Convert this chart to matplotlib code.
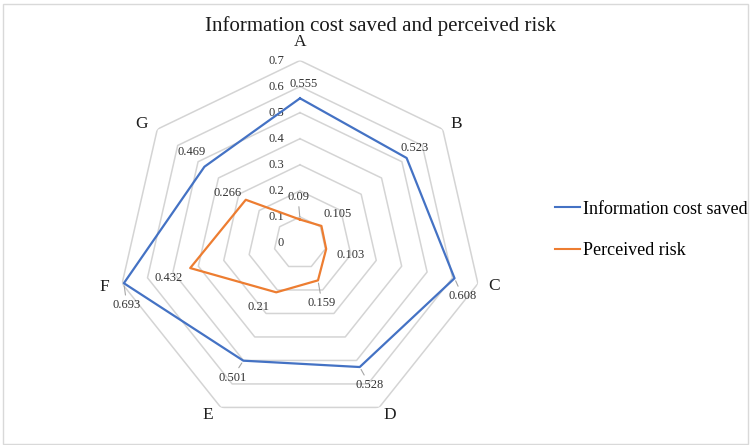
import numpy as np
import matplotlib
matplotlib.use("Agg")
import matplotlib.pyplot as plt
from matplotlib.lines import Line2D
from matplotlib.patches import Rectangle

# ---- data -------------------------------------------------------------
categories = ["A", "B", "C", "D", "E", "F", "G"]
info_cost_saved = [0.555, 0.523, 0.608, 0.528, 0.501, 0.693, 0.469]
perceived_risk = [0.09, 0.105, 0.103, 0.159, 0.21, 0.432, 0.266]
series_names = ["Information cost saved", "Perceived risk"]
ring_values = [0, 0.1, 0.2, 0.3, 0.4, 0.5, 0.6, 0.7]
ring_labels = ["0", "0.1", "0.2", "0.3", "0.4", "0.5", "0.6", "0.7"]
title = "Information cost saved and perceived risk"

# ---- styling ----------------------------------------------------------
plt.rcParams["font.family"] = ["Liberation Serif", "DejaVu Serif"]
BLUE = "#4472C4"
ORANGE = "#ED7D31"
GRID = "#D4D4D4"
LABEL = "#333333"

W, H = 750, 445
fig = plt.figure(figsize=(W / 100, H / 100), dpi=100)
fig.patch.set_facecolor("white")

# chart frame
fig.add_artist(Rectangle((3 / W, 1 / H), 745 / W, 440 / H, transform=fig.transFigure,
                         fill=False, edgecolor="#D9D9D9", lw=1))

# polar axes centred at (300, 243) px with a 182.5 px outer radius
cx, cy, R = 300, 243, 182.5
ax = fig.add_axes([(cx - R) / W, (H - cy - R) / H, 2 * R / W, 2 * R / H],
                  projection="polar")
ax.set_theta_zero_location("N")
ax.set_theta_direction(-1)
ax.set_ylim(0, ring_values[-1])
ax.grid(False)
ax.spines["polar"].set_visible(False)
ax.set_xticks([])
ax.set_yticks([])
ax.patch.set_alpha(0)

n = len(categories)
theta = np.arange(n) * 2 * np.pi / n
closed = np.append(theta, theta[0])

# heptagonal grid rings
for r in ring_values[1:]:
    ax.plot(closed, np.full(n + 1, r), color=GRID, lw=1.1, zorder=1)

# ring value labels along the A axis
for r, lab in zip(ring_values, ring_labels):
    ax.annotate(lab, xy=(0, r), xytext=(-16, 0), textcoords="offset pixels",
                ha="right", va="center", fontsize=9, color=LABEL, zorder=3)

# series
ax.plot(closed, np.append(info_cost_saved, info_cost_saved[0]), color=BLUE, lw=1.6, zorder=4)
ax.plot(closed, np.append(perceived_risk, perceived_risk[0]), color=ORANGE, lw=1.6, zorder=4)

# category labels just outside the outer ring (pixel offsets, y down)
cat_offsets = [(0, -18), (14, -5), (16, 2), (11, 8), (-13, 8), (-18, 3), (-16, -5)]
for t, lab, (dx, dy) in zip(theta, categories, cat_offsets):
    ax.annotate(lab, xy=(t, ring_values[-1]), xytext=(dx, -dy), textcoords="offset pixels",
                ha="center", va="center", fontsize=12.5, color="#1f1f1f")

# data labels (pixel offsets, y down) and which ones carry a leader line
blue_offsets = [(4, -14), (8, -10), (8, 18), (10, 18), (-11, 17), (3, 22), (-13, -15)]
blue_leader = [False, False, True, True, True, True, False]
orange_offsets = [(-2, -23), (16, -12), (24, 6), (4, 23), (-18, 15), (-22, 10), (-18, -7)]
orange_leader = [True, False, False, True, False, False, False]


def label_series(values, offsets, leaders):
    for t, v, (dx, dy), lead in zip(theta, values, offsets, leaders):
        kw = {}
        if lead:
            kw["arrowprops"] = dict(arrowstyle="-", color="#A6A6A6", lw=0.8,
                                    shrinkA=1, shrinkB=2)
        ax.annotate(f"{v:g}", xy=(t, v), xytext=(dx, -dy), textcoords="offset pixels",
                    ha="center", va="center", fontsize=9, color=LABEL, zorder=5, **kw)


label_series(info_cost_saved, blue_offsets, blue_leader)
label_series(perceived_risk, orange_offsets, orange_leader)

# title
fig.text(380 / W, 1 - 26 / H, title, ha="center", va="center", fontsize=15, color="#1a1a1a")

# legend
handles = [Line2D([], [], color=BLUE, lw=1.5), Line2D([], [], color=ORANGE, lw=1.5)]
fig.legend(handles, series_names, loc="center left", bbox_to_anchor=(555 / W, 1 - 230 / H),
           frameon=False, fontsize=13, handlelength=1.4, handletextpad=0.15,
           labelspacing=1.35, borderpad=0, borderaxespad=0)

fig.savefig("out.png", dpi=100)
